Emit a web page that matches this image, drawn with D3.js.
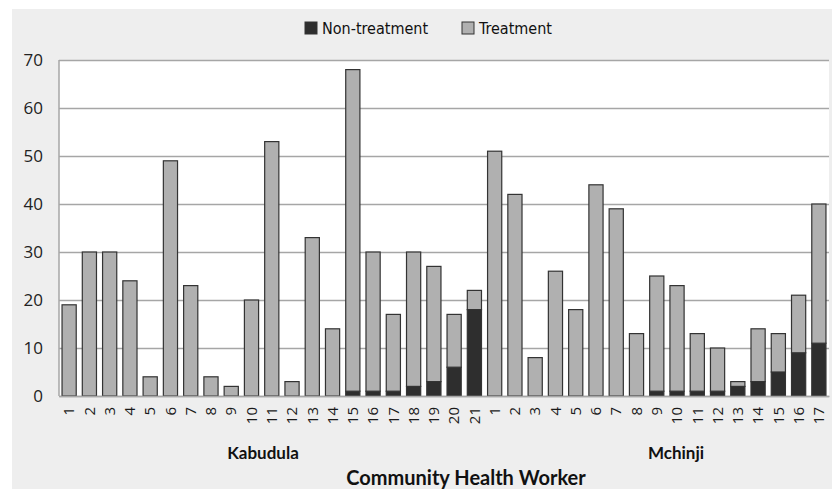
<!DOCTYPE html>
<html>
<head>
<meta charset="utf-8">
<script src="https://cdn.jsdelivr.net/npm/d3@7"></script>
<style>
  body { margin: 0; background: #fff; }
  svg { display: block; }
</style>
</head>
<body>
<div id="chart"></div>
<script>
// worker counts
var kabudulaWorkers = d3.range(1, 22);
var mchinjiWorkers = d3.range(1, 18);
var kabudulaNonTreatment = [0, 0, 0, 0, 0, 0, 0, 0, 0, 0, 0, 0, 0, 0, 1, 1, 1, 2, 3, 6, 18];
var kabudulaTreatment = [19, 30, 30, 24, 4, 49, 23, 4, 2, 20, 53, 3, 33, 14, 67, 29, 16, 28, 24, 11, 4];
var mchinjiNonTreatment = [0, 0, 0, 0, 0, 0, 0, 0, 1, 1, 1, 1, 2, 3, 5, 9, 11];
var mchinjiTreatment = [51, 42, 8, 26, 18, 44, 39, 13, 24, 22, 12, 9, 1, 11, 8, 12, 29];
var seriesNames = ["Non-treatment", "Treatment"];
var yTicks = [0, 10, 20, 30, 40, 50, 60, 70];

var colorNon = "#2e2e2e";
var colorTreat = "#b0b0b0";
var gridColor = "#a6a6a6";

var width = 832, height = 491;
var margin = {top: 60, right: 3, bottom: 95, left: 59};
var plotW = width - margin.left - margin.right;
var plotH = height - margin.top - margin.bottom;

var rows = [];
kabudulaWorkers.forEach(function(w, i) {
    rows.push({key: "K" + w, label: w, non: kabudulaNonTreatment[i], treat: kabudulaTreatment[i]});
});
mchinjiWorkers.forEach(function(w, i) {
    rows.push({key: "M" + w, label: w, non: mchinjiNonTreatment[i], treat: mchinjiTreatment[i]});
});

var svg = d3.select("#chart").append("svg")
    .attr("width", width)
    .attr("height", height);

svg.append("rect")
    .attr("x", 12).attr("y", 9)
    .attr("width", width - 12).attr("height", height - 11)
    .attr("fill", "#eeeeee");

var g = svg.append("g")
    .attr("transform", "translate(" + margin.left + "," + margin.top + ")");

g.append("rect")
    .attr("width", plotW).attr("height", plotH)
    .attr("fill", "#ffffff");

var x = d3.scaleBand()
    .domain(rows.map(function(d) { return d.key; }))
    .range([0, plotW])
    .paddingInner(0.3)
    .paddingOuter(0.15);

var y = d3.scaleLinear().domain([0, 70]).range([plotH, 0]);

// gridlines
var grid = g.append("g")
    .call(d3.axisLeft(y).tickValues(yTicks).tickSize(-plotW).tickFormat(""));
grid.select(".domain").remove();
grid.selectAll("line").attr("stroke", gridColor).attr("stroke-width", 1.5);

// left axis line
g.append("line")
    .attr("x1", 0).attr("x2", 0).attr("y1", 0).attr("y2", plotH)
    .attr("stroke", gridColor).attr("stroke-width", 1.5);

// y labels
var yAxis = g.append("g")
    .call(d3.axisLeft(y).tickValues(yTicks).tickSize(0).tickPadding(16));
yAxis.select(".domain").remove();
yAxis.selectAll("text")
    .attr("font-family", "Open Sans")
    .attr("font-size", 17)
    .attr("fill", "#222");

// stacked bars
var stack = d3.stack().keys(["non", "treat"]);
var layers = stack(rows);
var colors = [colorNon, colorTreat];

g.selectAll(".layer")
    .data(layers)
    .enter().append("g")
    .attr("class", "layer")
    .attr("fill", function(d, i) { return colors[i]; })
    .selectAll("rect")
    .data(function(d) { return d.filter(function(p) { return p[1] > p[0]; }); })
    .enter().append("rect")
    .attr("x", function(d) { return x(d.data.key); })
    .attr("y", function(d) { return y(d[1]); })
    .attr("width", x.bandwidth())
    .attr("height", function(d) { return y(d[0]) - y(d[1]); })
    .attr("stroke", "#333")
    .attr("stroke-width", 1.2);

// x labels
var xAxis = g.append("g")
    .attr("transform", "translate(0," + plotH + ")")
    .call(d3.axisBottom(x).tickSize(0).tickFormat(function(k) {
        return rows.find(function(r) { return r.key === k; }).label;
    }));
xAxis.select(".domain").attr("stroke", gridColor).attr("stroke-width", 1.5);
xAxis.selectAll("text")
    .attr("font-family", "Open Sans")
    .attr("font-size", 15)
    .attr("fill", "#1a1a1a")
    .attr("transform", "rotate(-90)")
    .attr("text-anchor", "end")
    .attr("x", -11)
    .attr("y", 0)
    .attr("dy", "0.35em");

// group labels
svg.append("text")
    .attr("x", 263).attr("y", 459)
    .attr("text-anchor", "middle")
    .attr("font-family", "Lato").attr("font-weight", "bold").attr("font-size", 17)
    .attr("fill", "#111")
    .text("Kabudula");
svg.append("text")
    .attr("x", 676).attr("y", 459)
    .attr("text-anchor", "middle")
    .attr("font-family", "Lato").attr("font-weight", "bold").attr("font-size", 17)
    .attr("fill", "#111")
    .text("Mchinji");
svg.append("text")
    .attr("x", 466).attr("y", 485)
    .attr("text-anchor", "middle")
    .attr("font-family", "Lato").attr("font-weight", "bold").attr("font-size", 20)
    .attr("fill", "#111")
    .text("Community Health Worker");

// legend
var legendX = [305, 462];
var legend = svg.selectAll(".legend")
    .data(seriesNames)
    .enter().append("g")
    .attr("class", "legend")
    .attr("transform", function(d, i) { return "translate(" + legendX[i] + ",22)"; });
legend.append("rect")
    .attr("width", 12).attr("height", 12)
    .attr("fill", function(d, i) { return colors[i]; })
    .attr("stroke", "#333").attr("stroke-width", 1);
legend.append("text")
    .attr("x", 17).attr("y", 12)
    .attr("font-family", "DejaVu Sans Condensed")
    .attr("font-size", 16)
    .attr("fill", "#111")
    .text(function(d) { return d; });
</script>
</body>
</html>
